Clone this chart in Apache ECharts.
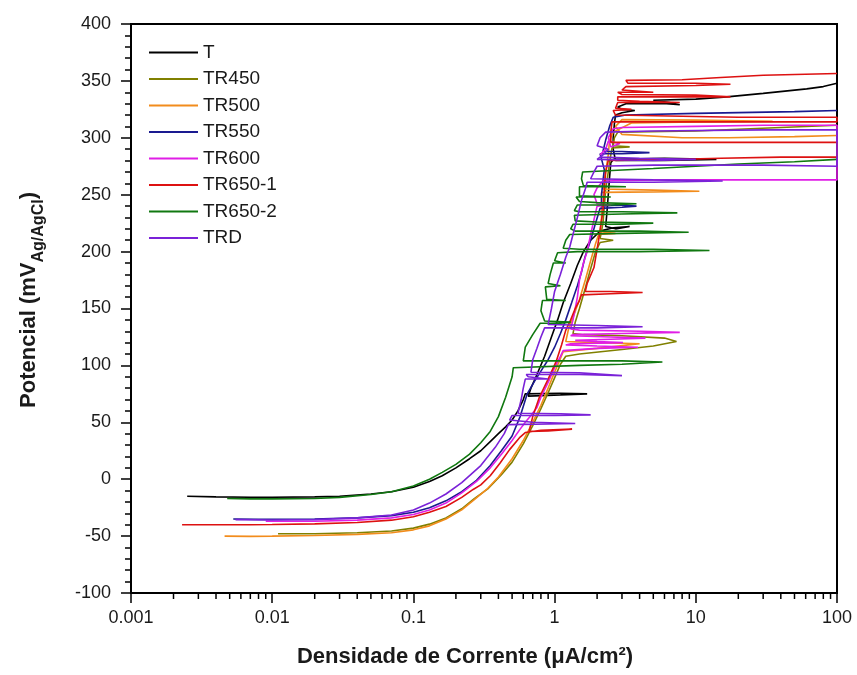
<!DOCTYPE html>
<html><head><meta charset="utf-8">
<script src="https://cdn.jsdelivr.net/npm/echarts@6/dist/echarts.min.js"></script>
<style>html,body{margin:0;padding:0;background:#fff}#c{width:857px;height:675px}</style>
</head><body><div id="c"></div>
<script>
// ---- data (x: current density µA/cm², y: potential mV) ----
const seriesNames = ['T','TR450','TR500','TR550','TR600','TR650-1','TR650-2','TRD'];
const seriesColors = ['#000000','#808000','#F28C1C','#1A1A90','#E01EE6','#DD1111','#107810','#7A22D8'];

const T = [[0.0025,-15],[0.004,-15.5],[0.007,-15.8],[0.01,-15.8],[0.02,-15.5],[0.03,-15],[0.05,-13],[0.07,-11],[0.1,-7],[0.13,-2],[0.16,3],[0.2,10],[0.25,18],[0.3,25],[0.35,33],[0.4,40],[0.45,46],[0.5,52],[0.55,60],[0.6,70],[0.62,75],[1.1,75.5],[1.7,75],[1.1,74],[0.65,73],[0.68,80],[0.75,92],[0.85,108],[0.95,125],[1.05,140],[1.15,155],[1.3,172],[1.45,188],[1.6,200],[1.8,210],[2.1,218],[2.6,221],[3.4,222],[2.7,220],[2.3,222],[2.35,235],[2.4,250],[2.45,265],[2.5,278],[2.6,281],[6,282],[14,281],[6,280],[2.7,280],[2.6,290],[2.6,300],[2.65,312],[2.7,320],[3,322],[3.7,324],[3,325],[2.8,327],[3.2,330],[6.2,330],[7.7,329],[6.5,331],[5,333],[10,334],[16.6,336],[30,339],[61,343],[80,345],[100,348]];

const TR450 = [[0.011,-48],[0.02,-48],[0.04,-47],[0.07,-45.5],[0.1,-43],[0.13,-39.5],[0.17,-34],[0.22,-26],[0.27,-17],[0.34,-8],[0.42,4],[0.5,15],[0.6,31],[0.7,47],[0.8,62],[0.9,76],[1.0,89],[1.1,101],[1.2,108],[1.5,110],[3,114],[5,117],[7.3,121],[6,124],[3,126],[1.6,127],[1.35,128],[1.4,138],[1.5,150],[1.65,168],[1.8,185],[1.95,200],[2.1,208],[2.6,210],[2.1,211.5],[2.2,225],[2.25,240],[2.3,255],[2.4,270],[2.5,285],[2.55,291],[3.4,292],[2.6,293],[2.65,300],[2.8,305],[10,306],[40,309],[100,311]];

const TR500 = [[0.0046,-50],[0.007,-50.2],[0.01,-50],[0.02,-49.5],[0.04,-48.5],[0.07,-47],[0.1,-44.5],[0.13,-41],[0.17,-35],[0.22,-27],[0.27,-18],[0.33,-9],[0.4,2],[0.5,18],[0.6,34],[0.7,50],[0.8,65],[0.9,80],[1.0,94],[1.1,106],[1.15,112],[2,115],[4,119],[2,120],[1.2,121],[1.25,131],[1.35,142],[1.5,158],[1.65,175],[1.8,192],[1.95,207],[2.05,215],[2.7,216],[2.1,217.5],[2.15,230],[2.15,245],[2.15,252],[5,252.5],[10.6,253],[5,254],[2.2,255],[2.3,270],[2.4,285],[2.45,298],[2.6,305],[3.5,313],[10,314],[35,314.5],[10,315.5],[3,316],[2.7,310],[3,303],[8,300],[17,300],[50,301],[100,302]];

const TR550 = [[0.0053,-35],[0.008,-35.3],[0.01,-35.3],[0.02,-35],[0.04,-34],[0.07,-32],[0.1,-29],[0.13,-25],[0.17,-19],[0.22,-11],[0.28,-1],[0.35,12],[0.42,25],[0.5,38],[0.57,55],[0.64,75],[0.72,86],[0.8,95],[0.9,105],[1.0,116],[1.1,128],[1.2,140],[1.32,155],[1.45,170],[1.55,182],[1.64,195],[1.8,210],[1.95,225],[2.1,238],[3,239],[3.8,240],[2.8,241],[2.15,240],[2.15,250],[2.2,262],[2.25,272],[2.1,286],[3,286],[4.7,287],[3,288],[2.2,288],[2.3,298],[2.45,310],[2.6,318],[3.2,320],[10,321.5],[50,323],[100,324]];

const TR600 = [[0.009,-37],[0.02,-37],[0.04,-36],[0.07,-34],[0.1,-31],[0.13,-27],[0.17,-21],[0.22,-12],[0.28,-2],[0.35,10],[0.42,22],[0.5,34],[0.57,44],[0.62,50],[0.68,56],[0.75,63],[0.8,72],[0.9,85],[1.0,98],[1.1,108],[1.15,113],[2,115],[3.9,116],[2,117],[1.2,118],[1.3,119],[2,119.5],[3.05,120],[2,121],[1.4,122],[2.5,123],[4.4,124],[2.5,125],[1.3,126],[1.35,127],[3,128],[7.7,129],[4,130],[1.5,131],[1.3,132],[1.35,140],[1.4,150],[1.45,160],[1.5,175],[1.6,190],[1.7,200],[1.8,215],[1.9,228],[2.0,240],[2.5,241],[2.0,242],[1.9,250],[2.0,256],[2.2,262],[5,263],[20,263],[100,263],[100,311],[30,311],[10,310],[3,309],[2.6,308],[2.4,300],[2.5,292],[2.9,295],[2.4,297],[2.3,290],[2.1,285]];

const TR650_1 = [[0.0023,-40],[0.004,-40],[0.007,-40],[0.01,-39.8],[0.02,-39.3],[0.04,-38],[0.07,-36],[0.1,-33],[0.13,-29],[0.17,-24],[0.22,-16],[0.265,-9],[0.3,-5],[0.35,3],[0.41,14],[0.48,26],[0.57,37],[0.62,41],[0.8,43],[1.33,44],[0.9,42.5],[0.66,42],[0.7,55],[0.78,72],[0.9,88],[1.03,104],[1.12,118],[1.2,131],[1.3,140],[1.4,150],[1.5,157],[1.55,162],[2.5,163],[4.2,164],[2.5,165],[1.65,165],[1.7,172],[1.9,186],[2.05,210],[2.2,236],[2.25,255],[2.3,270],[2.4,280],[7.7,281],[15,282],[40,283],[100,283],[100,296],[20,296],[5,296],[2.5,296],[2.5,305],[2.55,314],[20,314],[100,314],[100,318],[20,318],[8,319],[2.7,320],[2.6,324],[3.5,325],[2.7,326],[2.8,331],[7.7,331],[4,332],[2.8,333],[2.8,336],[10,336],[17.6,336],[10,337.5],[3,338],[2.8,340],[5,340],[3,342],[3.2,345],[10,346],[17.6,347],[10,348],[3.3,348],[3.2,350.5],[8,351],[15,353],[30,355],[100,356.5]];

const TR650_2 = [[0.0048,-17],[0.007,-17.3],[0.01,-17.3],[0.02,-17],[0.03,-16],[0.05,-13.5],[0.07,-11],[0.1,-6],[0.13,0],[0.16,6],[0.2,13],[0.25,22],[0.3,32],[0.35,42],[0.4,55],[0.45,72],[0.5,90],[0.51,98],[1.5,100],[3,101],[5.8,103],[3,104],[1.2,104],[0.6,104],[0.62,116],[0.7,127],[0.79,137],[1.1,137],[1.3,138],[0.85,139],[0.8,148],[0.82,157],[1.2,157],[0.88,158],[0.86,169],[1.1,170],[0.9,172],[0.93,180],[0.98,190],[1.2,190],[1.0,192],[1.05,199],[1.45,200],[4,200],[12.5,201],[5,202],[1.5,202],[1.15,203],[1.2,210],[1.28,215],[3,216],[8.9,217],[4,218],[1.4,218],[1.3,220],[1.35,224],[3,224],[5,225],[2,226],[1.4,227],[1.38,232],[3,233],[7.4,234],[3,235],[1.5,235],[1.38,236],[1.45,241],[2.5,241],[3.8,242],[2,243],[1.5,244],[1.42,248],[2.5,248],[1.5,249],[1.5,257],[3.2,257],[1.6,258],[1.55,264],[1.58,270],[2.35,271],[5,273],[20,277],[50,279],[100,281]];

const TRD = [[0.0055,-35.5],[0.01,-35.8],[0.02,-35.5],[0.04,-34],[0.07,-31.5],[0.1,-27],[0.13,-21],[0.17,-13],[0.22,-3],[0.3,12],[0.38,28],[0.44,40],[0.47,48],[1.4,49],[0.7,50],[0.48,52],[0.5,56],[1.0,56],[1.8,56.5],[1.1,57.5],[0.55,58],[0.58,70],[0.6,80],[0.62,88],[0.9,88],[0.65,90],[0.63,92],[1.5,92],[3,91],[1.5,93.5],[0.68,94],[0.7,105],[0.75,115],[0.8,125],[0.85,133],[2,133],[4.2,134],[2,135],[0.9,136],[0.95,150],[1.0,165],[1.1,180],[1.2,195],[1.28,204],[1.35,215],[1.45,230],[1.55,245],[1.65,255],[1.7,261],[5,261],[15.5,262],[5,263],[1.8,264],[1.9,270],[2.0,275],[5,276],[30,276],[100,275],[100,307],[30,307],[5,306],[2.3,305],[2.1,300],[2.0,293],[2.4,290],[2.2,285],[2.0,281],[5,280],[10,281],[4,282],[2.1,283]];

const seriesData = [T, TR450, TR500, TR550, TR600, TR650_1, TR650_2, TRD];

const xMin = 0.001, xMax = 100;
const xTickLabels = ['0.001','0.01','0.1','1','10','100'];
const xMinorTicks = [0.002,0.003,0.004,0.005,0.006,0.007,0.008,0.009,
  0.02,0.03,0.04,0.05,0.06,0.07,0.08,0.09,
  0.2,0.3,0.4,0.5,0.6,0.7,0.8,0.9,
  2,3,4,5,6,7,8,9,
  20,30,40,50,60,70,80,90];
const yMin = -100, yMax = 400, yInterval = 50;

const FONT = '"Liberation Sans", Arial, sans-serif';

const chart = echarts.init(document.getElementById('c'), null, {renderer:'canvas'});

const lineSeries = seriesNames.map((name, i) => ({
  name: name,
  type: 'line',
  data: seriesData[i],
  symbol: 'none',
  showSymbol: false,
  smooth: false,
  clip: true,
  lineStyle: {color: seriesColors[i], width: 1.6},
  itemStyle: {color: seriesColors[i]},
  emphasis: {disabled: true},
  z: 2
}));

const minorTickSeries = {
  name: 'xminor',
  type: 'custom',
  silent: true,
  clip: false,
  z: 5,
  data: xMinorTicks.map(v => [v]),
  encode: {x: 0},
  renderItem: function (params, api) {
    const p = api.coord([api.value(0), yMin]);
    return {type: 'line', shape: {x1: p[0], y1: p[1], x2: p[0], y2: p[1] + 6},
            style: {stroke: '#000', lineWidth: 1.5}};
  }
};

chart.setOption({
  animation: false,
  backgroundColor: '#ffffff',
  grid: {left: 131, right: 20, top: 24, bottom: 82, show: true, borderColor: '#000', borderWidth: 2, containLabel: false},
  legend: {
    data: seriesNames,
    orient: 'vertical',
    left: 144, top: 38,
    icon: 'rect',
    itemWidth: 49, itemHeight: 2, itemGap: 7.5,
    selectedMode: false,
    textStyle: {fontFamily: FONT, fontSize: 19, color: '#1a1a1a'}
  },
  xAxis: {
    type: 'log', logBase: 10, min: xMin, max: xMax,
    name: 'Densidade de Corrente (\u03bcA/cm\u00b2)',
    nameLocation: 'middle', nameGap: 53,
    nameTextStyle: {fontFamily: FONT, fontSize: 22, fontWeight: 'bold', color: '#1a1a1a', padding: [0, 38, 0, 0]},
    axisLine: {show: true, onZero: false, lineStyle: {color: '#000', width: 2}},
    axisTick: {show: true, inside: false, length: 10, lineStyle: {color: '#000', width: 1.5}},
    minorTick: {show: false},
    splitLine: {show: false},
    axisLabel: {fontFamily: FONT, fontSize: 18, color: '#1a1a1a', margin: 16,
      formatter: function (v) { return xTickLabels[Math.round(Math.log10(v)) + 3]; }}
  },
  yAxis: {
    type: 'value', min: yMin, max: yMax, interval: yInterval,
    name: '{a|Potencial (mV}{b|Ag/AgCl}{a|)}',
    nameLocation: 'middle', nameGap: 84, nameRotate: 90,
    nameTextStyle: {padding: [0, 0, 0, 17], rich: {
      a: {fontFamily: FONT, fontSize: 22, fontWeight: 'bold', color: '#1a1a1a', verticalAlign: 'bottom', padding: [0,0,7,0]},
      b: {fontFamily: FONT, fontSize: 16, fontWeight: 'bold', color: '#1a1a1a', verticalAlign: 'bottom'}
    }},
    axisLine: {show: true, onZero: false, lineStyle: {color: '#000', width: 2}},
    axisTick: {show: true, inside: false, length: 10, lineStyle: {color: '#000', width: 1.5}},
    minorTick: {show: true, splitNumber: 5, length: 6, lineStyle: {color: '#000', width: 1.5}},
    splitLine: {show: false},
    minorSplitLine: {show: false},
    axisLabel: {fontFamily: FONT, fontSize: 18, color: '#1a1a1a', margin: 20}
  },
  series: lineSeries.concat([minorTickSeries])
});
</script>
</body></html>
